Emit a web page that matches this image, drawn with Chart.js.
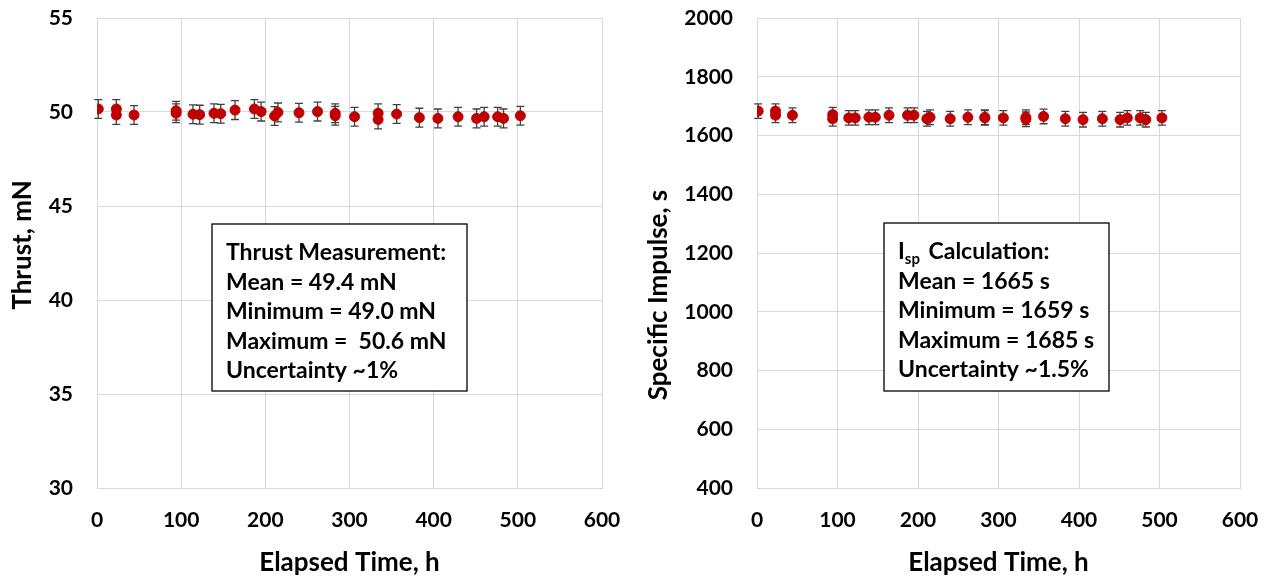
<!DOCTYPE html>
<html>
<head>
<meta charset="utf-8">
<script src="https://cdn.jsdelivr.net/npm/chart.js@4.4.0/dist/chart.umd.min.js"></script>
<style>
  html, body { margin: 0; padding: 0; background: #fff; }
  #wrap { position: relative; width: 1266px; height: 578px; }
  .c { position: absolute; top: 0; width: 633px; height: 578px; }
  #c1 { left: 0; }
  #c2 { left: 633px; }
</style>
</head>
<body>
<div id="wrap">
  <div class="c" id="c1"><canvas id="thrust"></canvas></div>
  <div class="c" id="c2"><canvas id="isp"></canvas></div>
</div>
<script>
// ---- data ----
const elapsedHours = [1.5, 23, 23, 44, 94, 94, 114, 122, 139, 147, 164, 187, 195, 211, 215, 240, 262, 283, 283, 306, 334, 334, 356, 383, 405, 429, 451, 460, 476, 483, 503];
const thrustValues = [50.16, 50.16, 49.84, 49.84, 50.07, 49.93, 49.88, 49.86, 49.93, 49.91, 50.10, 50.16, 50.02, 49.79, 49.98, 49.96, 50.02, 49.93, 49.80, 49.75, 49.93, 49.60, 49.89, 49.70, 49.66, 49.75, 49.66, 49.75, 49.75, 49.66, 49.80];
const ispValues = [1683, 1683, 1669, 1669, 1671, 1657, 1660, 1660, 1662, 1662, 1669, 1669, 1669, 1657, 1662, 1657, 1662, 1662, 1660, 1660, 1662, 1655, 1665, 1657, 1654, 1657, 1654, 1660, 1660, 1654, 1660];
const thrustError = 0.5;   // ~1% uncertainty, mN
const ispError = 25;       // ~1.5% uncertainty, s
const xTicks = [0, 100, 200, 300, 400, 500, 600];
const thrustTicks = [30, 35, 40, 45, 50, 55];
const ispTicks = [400, 600, 800, 1000, 1200, 1400, 1600, 1800, 2000];
const thrustBoxLines = ["Thrust Measurement:", "Mean = 49.4 mN", "Minimum = 49.0 mN", "Maximum =  50.6 mN", "Uncertainty ~1%"];
const ispBoxLines = ["I|sp| Calculation:", "Mean = 1665 s", "Minimum = 1659 s", "Maximum = 1685 s", "Uncertainty ~1.5%"];

const FONT = "Lato, 'Open Sans', sans-serif";
const RED = '#C00000';
const GRID = '#d9d9d9';

const errorBarPlugin = {
  id: 'errorBars',
  beforeDatasetsDraw(chart, args, opts) {
    const ctx = chart.ctx;
    const xs = chart.scales.x, ys = chart.scales.y;
    const ds = chart.data.datasets[0];
    ctx.save();
    ctx.strokeStyle = '#404040';
    ctx.lineWidth = 1.3;
    ds.data.forEach(p => {
      const px = xs.getPixelForValue(p.x);
      const y1 = ys.getPixelForValue(p.y + opts.err);
      const y2 = ys.getPixelForValue(p.y - opts.err);
      ctx.beginPath();
      ctx.moveTo(px, y1); ctx.lineTo(px, y2);
      ctx.moveTo(px - 4, y1); ctx.lineTo(px + 4, y1);
      ctx.moveTo(px - 4, y2); ctx.lineTo(px + 4, y2);
      ctx.stroke();
    });
    ctx.restore();
  }
};

const yTitlePlugin = {
  id: 'yTitle',
  afterDraw(chart, args, opts) {
    const ctx = chart.ctx;
    const a = chart.chartArea;
    ctx.save();
    ctx.translate(opts.x, (a.top + a.bottom) / 2 + opts.dy);
    ctx.rotate(-Math.PI / 2);
    ctx.font = 'bold 26px ' + FONT;
    ctx.fillStyle = '#000';
    ctx.textAlign = 'center';
    ctx.textBaseline = 'middle';
    ctx.fillText(opts.text, 0, 0);
    ctx.restore();
  }
};

const textBoxPlugin = {
  id: 'textBox',
  afterDraw(chart, args, opts) {
    const ctx = chart.ctx;
    const a = chart.chartArea;
    const left = a.left + opts.x, top = a.top + opts.y;
    ctx.save();
    ctx.fillStyle = '#fff';
    ctx.fillRect(left, top, opts.w, opts.h);
    ctx.strokeStyle = '#000';
    ctx.lineWidth = 1.3;
    ctx.strokeRect(left, top, opts.w, opts.h);
    ctx.fillStyle = '#000';
    ctx.textBaseline = 'alphabetic';
    ctx.textAlign = 'left';
    opts.lines.forEach((line, i) => {
      const y = top + 36 + i * 29.6;
      let x = left + 14;
      const parts = line.split('|');
      parts.forEach((part, j) => {
        if (j % 2 === 1) {
          ctx.font = 'bold 15px ' + FONT;
          ctx.fillText(part, x, y + 5);
          x += ctx.measureText(part).width + 3;
        } else {
          ctx.font = 'bold 23px ' + FONT;
          ctx.fillText(part, x, y);
          x += ctx.measureText(part).width;
        }
      });
    });
    ctx.restore();
  }
};

function zeroPad(s) { s.paddingLeft = 0; s.paddingRight = 0; s.paddingTop = 0; s.paddingBottom = 0; }

function makeChart(id, yVals, yMin, yMax, yTicks, yTitle, yWidth, rightPad, titleX, titleDy, err, box) {
  const pts = elapsedHours.map((h, i) => ({ x: h, y: yVals[i] }));
  return new Chart(document.getElementById(id), {
    type: 'scatter',
    data: { datasets: [{ data: pts, backgroundColor: RED, borderColor: RED, pointRadius: 5, pointHoverRadius: 5 }] },
    options: {
      responsive: true,
      maintainAspectRatio: false,
      animation: false,
      layout: { padding: { top: 18, right: rightPad, left: 0, bottom: 0 } },
      plugins: {
        legend: { display: false },
        tooltip: { enabled: false },
        errorBars: { err: err },
        yTitle: { text: yTitle, x: titleX, dy: titleDy },
        textBox: box
      },
      scales: {
        x: {
          type: 'linear', min: 0, max: 600,
          afterBuildTicks: s => { s.ticks = xTicks.map(v => ({ value: v })); },
          afterFit: s => { s.height = 90; zeroPad(s); },
          grid: { color: GRID, drawTicks: false, lineWidth: 1 },
          border: { color: GRID },
          ticks: { color: '#000', font: { family: FONT, size: 21, weight: 'bold' }, padding: 20, maxRotation: 0, callback: v => String(v) },
          title: { display: true, text: 'Elapsed Time, h', color: '#000', font: { family: FONT, size: 26, weight: 'bold' }, padding: { top: 4, bottom: 0 } }
        },
        y: {
          type: 'linear', min: yMin, max: yMax,
          afterBuildTicks: s => { s.ticks = yTicks.map(v => ({ value: v })); },
          afterFit: s => { s.width = yWidth; zeroPad(s); },
          grid: { color: GRID, drawTicks: false, lineWidth: 1 },
          border: { color: GRID },
          ticks: { color: '#000', font: { family: FONT, size: 21, weight: 'bold' }, padding: 24, callback: v => String(v) },
          title: { display: false }
        }
      }
    },
    plugins: [errorBarPlugin, yTitlePlugin, textBoxPlugin]
  });
}

makeChart('thrust', thrustValues, 30, 55, thrustTicks, 'Thrust, mN', 97, 31, 23, -8, thrustError,
  { x: 115, y: 206, w: 255, h: 167, lines: thrustBoxLines });
makeChart('isp', ispValues, 400, 2000, ispTicks, 'Specific Impulse, s', 124, 26, 26, 42, ispError,
  { x: 127, y: 205, w: 225, h: 168, lines: ispBoxLines });
</script>
</body>
</html>
